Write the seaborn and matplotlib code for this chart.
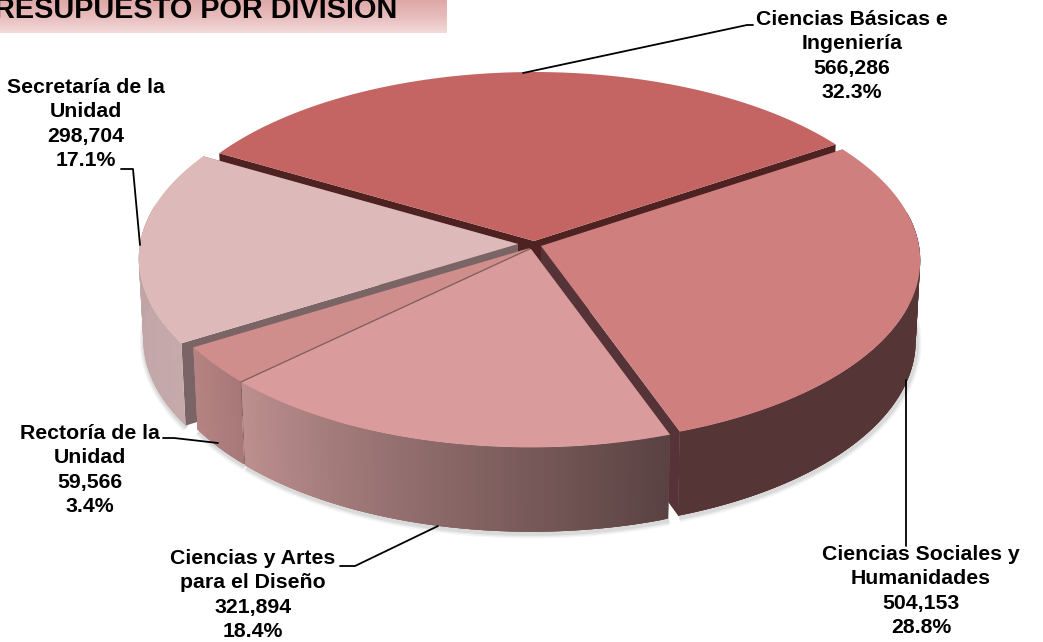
import matplotlib
matplotlib.use('Agg')
import matplotlib.pyplot as plt
import numpy as np
import seaborn as sns

# data
names = ['Ciencias Básicas e\nIngeniería', 'Ciencias Sociales y\nHumanidades',
         'Ciencias y Artes\npara el Diseño', 'Rectoría de la\nUnidad',
         'Secretaría de la\nUnidad']
values = [566286, 504153, 321894, 59566, 298704]
title = 'PRESUPUESTO POR DIVISIÓN'

top_colors = ['#c56563', '#cf7f7e', '#d99b9b', '#cf8e8c', '#deb9b9']
# wall gradients run clockwise along each slice's arc
wall_colors = [('#6b2f2f', '#6b2f2f'), ('#553536', '#553536'), ('#5a4242', '#bd8f8f'),
               ('#a87878', '#b58483'), ('#c6a9aa', '#bda0a1')]
cut_colors = ['#4f2222', '#553336', '#7f5f5f', '#7f5f5f', '#7a6465']

# apex of each slice in pixels (exploded pie)
apex = [(534, 241), (541, 246), (531, 249), (530, 248), (518, 244)]
draw_order = [0, 4, 1, 3, 2]

# where the labels and leader lines go, in pixels
label_pos = [(852, 56), (921, 591), (253, 595), (90, 470), (86, 124)]
leaders = [[(523, 73), (747, 25), (753, 25)],
           [(906, 380), (906, 546)],
           [(438, 526), (355, 566), (340, 566)],
           [(218, 443), (174, 438), (163, 438)],
           [(140, 245), (133, 169), (121, 169)]]

RX, RY, K, DEPTH = 378, 182.5, 0.08, 81
START = 150


def project(center, theta, z=0.0):
    X, Y = np.cos(theta), np.sin(theta)
    w = 1 + K * Y + 0.012 * z
    return center[0] + RX * X / w, center[1] - (RY * Y - DEPTH * z) / w


sns.set_theme(style='white')
plt.rcParams['font.family'] = ['Liberation Sans', 'DejaVu Sans']

fig = plt.figure(figsize=(10.43, 6.42), dpi=100)
ax = fig.add_axes([0, 0, 1, 1])
ax.set_xlim(0, 1043)
ax.set_ylim(642, 0)
ax.axis('off')

# title band
band = np.linspace(0, 1, 64).reshape(-1, 1)
cmap = sns.blend_palette(['#dfa8a8', '#e8bcbc', '#f3dada'], as_cmap=True)
ax.imshow(band, cmap=cmap, extent=(0, 447, 33, 0), aspect='auto', zorder=1)
ax.set_xlim(0, 1043)
ax.set_ylim(642, 0)
ax.text(397, 18, title, ha='right', va='baseline', fontsize=20.8, fontweight='bold',
        color='black', zorder=2)

# slice angles come from the values
shares = np.array(values) / sum(values)
ends = START - np.cumsum(shares) * 360
starts = np.r_[START, ends[:-1]]

for i in draw_order:
    a0, a1 = np.radians(starts[i]), np.radians(ends[i])
    c = apex[i]
    arc = np.linspace(a0, a1, 120)
    z = 4 + draw_order.index(i)

    # soft shadow under the rim
    front = arc[np.sin(arc) < 0.1]
    if len(front) > 1:
        sx, sy = project(c, front, 1.0)
        for lw, al in [(7, 0.05), (5, 0.07), (3, 0.1)]:
            ax.plot(sx + 1, sy + 2, color='#555555', lw=lw, alpha=al,
                    solid_capstyle='butt', zorder=z - 0.5)

    # cut faces
    for a in (a0, a1):
        xt, yt = project(c, a, 0)
        xb, yb = project(c, a, 1)
        ax.fill([c[0], xt, xb, c[0]],
                [c[1], yt, yb, c[1] + DEPTH], color=cut_colors[i], lw=0, zorder=z)

    # curved wall, in strips that overlap the next one so no seams show
    strip_cols = sns.blend_palette(list(wall_colors[i]), len(arc) - 1)
    x0, y0 = project(c, arc, 0)
    x1, y1 = project(c, arc, 1)
    for k in range(len(arc) - 1):
        if np.sin(arc[k]) > 0.2:
            continue
        j = min(k + 3, len(arc) - 1)
        ax.fill(np.r_[x0[k:j + 1], x1[k:j + 1][::-1]],
                np.r_[y0[k:j + 1], y1[k:j + 1][::-1]],
                color=strip_cols[k], lw=0, zorder=z)

    # top face
    ax.fill(np.r_[c[0], x0], np.r_[c[1], y0], color=top_colors[i], lw=0, zorder=z)

# labels
for name, v, s, pos, pts in zip(names, values, shares, label_pos, leaders):
    txt = f'{name}\n{v:,}\n{s * 100:.1f}%'
    ax.text(pos[0], pos[1], txt, ha='center', va='center', fontsize=15.3,
            fontweight='bold', color='black', linespacing=1.34, zorder=20)
    ax.plot(*zip(*pts), color='black', lw=1.3, zorder=19)

fig.savefig('out.png', dpi=100)
